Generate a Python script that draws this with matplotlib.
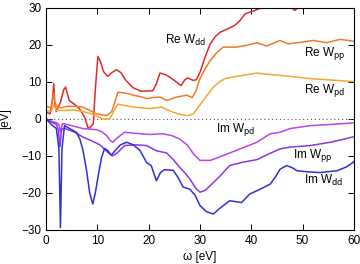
import matplotlib
matplotlib.use("Agg")
import matplotlib.pyplot as plt

plt.rcParams['font.family'] = ['Liberation Sans', 'DejaVu Sans']

# frequency grids [eV] and values [eV]
re_dd_w = [0, 0.8, 1.3, 1.5, 1.7, 2.0, 2.8, 3.4, 3.8, 4.5, 5.5, 6.5, 7.5, 8.2, 8.8, 9.2, 9.6, 10.1, 10.6, 11.2, 12.0, 12.8, 13.7, 14.6, 15.5, 17.0, 18.5, 20.8, 21.5, 22.2, 23.2, 24.1, 25.2, 26.3, 27.0, 27.6, 28.7, 29.3, 30.0, 31.0, 32.0, 33.0, 34.0, 35.5, 36.8, 37.8, 38.8, 40.7, 42.3, 45.0, 47.5, 48.5, 49.5, 52.0, 56.0, 60.0]
re_dd_v = [1.8, 1.4, 6.0, 9.5, 4.0, 2.0, 4.5, 7.8, 8.6, 5.0, 4.0, 2.8, 0.5, -2.5, -2.0, -1.3, 8.0, 16.9, 15.5, 12.8, 11.5, 12.5, 13.3, 12.5, 10.5, 8.4, 7.5, 7.6, 9.5, 12.4, 12.0, 11.3, 10.2, 9.0, 10.5, 11.1, 10.4, 10.6, 12.6, 16.7, 20.3, 22.3, 23.5, 24.4, 25.3, 26.6, 28.4, 29.3, 30.3, 31.0, 30.5, 29.3, 30.5, 31.5, 32.0, 32.5]

re_pp_w = [0, 1.0, 1.3, 1.5, 1.7, 2.0, 3.0, 4.0, 5.5, 7.2, 8.5, 9.8, 11.8, 12.8, 13.4, 14.0, 15.5, 17.0, 18.5, 19.6, 21.0, 22.2, 23.5, 25.4, 27.4, 28.5, 29.2, 30.0, 31.0, 32.0, 33.2, 34.5, 37.1, 39.1, 41.1, 43.0, 45.6, 47.2, 50.2, 52.1, 54.7, 57.3, 60.0]
re_pp_v = [3.4, 3.0, 5.5, 7.0, 4.5, 3.4, 3.0, 3.4, 3.4, 3.2, 2.3, 1.4, 0.9, 2.0, 4.5, 7.2, 7.0, 6.4, 6.0, 5.5, 5.8, 5.9, 5.0, 5.9, 6.4, 5.8, 7.5, 10.9, 13.5, 15.8, 17.8, 19.4, 19.4, 19.9, 20.6, 19.7, 21.2, 20.3, 20.8, 21.2, 20.6, 21.5, 21.0]

re_pd_w = [0, 1.0, 1.5, 2.0, 4.0, 5.5, 7.2, 8.5, 9.8, 11.0, 12.4, 13.0, 13.5, 14.0, 15.5, 17.0, 20.2, 22.5, 23.6, 24.8, 26.0, 27.4, 28.2, 28.7, 29.3, 30.0, 31.2, 32.6, 33.8, 34.9, 37.1, 41.1, 43.7, 47.5, 51.5, 55.5, 60.0]
re_pd_v = [2.3, 2.0, 4.0, 2.3, 2.3, 2.4, 2.0, 1.5, 0.9, 0.0, 0.0, 1.5, 3.0, 4.0, 3.6, 3.2, 2.8, 3.2, 2.5, 1.8, 1.3, 0.9, 1.1, 1.4, 2.5, 3.8, 6.0, 8.6, 10.0, 10.9, 11.5, 12.4, 12.0, 11.5, 10.9, 10.5, 10.1]

im_pd_w = [0, 1.0, 2.0, 2.5, 2.8, 3.2, 3.6, 5.5, 7.2, 9.8, 10.8, 11.8, 12.5, 13.0, 13.8, 15.3, 17.5, 20.2, 22.8, 24.5, 26.0, 27.5, 28.7, 30.0, 32.0, 33.2, 34.5, 37.8, 41.1, 43.7, 45.6, 47.6, 51.5, 55.4, 59.6, 60.0]
im_pd_v = [0, -0.6, -1.0, -1.5, -3.5, -1.3, -1.3, -2.0, -2.6, -2.9, -3.4, -4.5, -5.8, -6.3, -5.2, -3.6, -3.9, -4.2, -4.0, -4.5, -5.4, -7.0, -9.4, -11.2, -11.2, -10.6, -9.9, -8.1, -6.3, -4.0, -3.6, -2.6, -1.8, -1.5, -1.1, -1.0]

im_pp_w = [0, 1.0, 2.0, 2.4, 2.7, 3.0, 3.5, 5.6, 7.2, 9.0, 10.5, 12.0, 13.0, 14.0, 15.3, 17.5, 19.6, 21.5, 23.5, 24.8, 26.0, 27.0, 28.0, 29.2, 30.0, 31.0, 32.0, 34.0, 35.8, 38.0, 41.1, 43.5, 45.6, 47.6, 51.5, 55.4, 58.0, 60.0]
im_pp_v = [0, -0.8, -1.5, -3.0, -7.5, -3.0, -2.5, -3.6, -4.9, -6.0, -7.0, -9.0, -10.0, -9.0, -7.2, -7.0, -7.2, -8.6, -9.2, -11.0, -13.0, -14.5, -16.2, -18.8, -19.8, -19.3, -18.0, -15.3, -12.6, -11.8, -11.0, -9.4, -8.1, -7.6, -7.2, -6.3, -5.5, -4.8]

im_dd_w = [0, 1.0, 2.0, 2.5, 2.8, 3.1, 3.6, 4.8, 5.9, 6.6, 7.2, 7.9, 8.5, 9.1, 9.6, 10.2, 10.8, 11.4, 12.0, 12.7, 13.5, 14.5, 15.7, 17.0, 18.3, 19.6, 20.5, 21.5, 22.3, 23.1, 24.8, 25.8, 26.7, 28.0, 29.0, 30.0, 31.2, 32.6, 34.0, 35.8, 38.1, 39.7, 42.0, 43.7, 44.8, 45.6, 46.9, 48.0, 48.9, 51.0, 53.4, 56.7, 58.5, 60.0]
im_dd_v = [0, -1.5, -2.6, -8.0, -29.4, -8.0, -1.8, -2.8, -3.6, -5.5, -8.5, -14.0, -20.0, -23.0, -20.0, -15.0, -10.5, -8.0, -8.5, -9.8, -8.5, -7.0, -6.3, -7.0, -8.5, -11.8, -12.6, -16.7, -14.5, -13.7, -13.9, -16.0, -18.4, -19.0, -20.5, -23.4, -25.0, -25.7, -24.0, -22.1, -22.6, -20.3, -18.8, -17.6, -15.5, -13.6, -12.6, -13.2, -14.0, -14.3, -14.5, -14.0, -13.0, -11.6]

fig = plt.figure(figsize=(3.6, 2.64), dpi=100)
ax = fig.add_axes([0.128, 0.129, 0.855, 0.841])

ax.axhline(0, color='#555555', lw=0.8, ls=(0, (1, 2.5)))
ax.plot(re_dd_w, re_dd_v, color='#e02a2a', lw=1.1)
ax.plot(re_pp_w, re_pp_v, color='#f07a2c', lw=1.1)
ax.plot(re_pd_w, re_pd_v, color='#f6a62e', lw=1.1)
ax.plot(im_pd_w, im_pd_v, color='#b545ee', lw=1.1)
ax.plot(im_pp_w, im_pp_v, color='#8a35e6', lw=1.1)
ax.plot(im_dd_w, im_dd_v, color='#2f2fd8', lw=1.1)

fs = 8.5
ax.text(23.1, 21.2, r'Re W$_{\rm dd}$', fontsize=fs, va='center')
ax.text(50.2, 17.6, r'Re W$_{\rm pp}$', fontsize=fs, va='center')
ax.text(50.2, 7.7, r'Re W$_{\rm pd}$', fontsize=fs, va='center')
ax.text(33.1, -2.9, r'Im W$_{\rm pd}$', fontsize=fs, va='center')
ax.text(48.1, -9.9, r'Im W$_{\rm pp}$', fontsize=fs, va='center')
ax.text(50.2, -16.6, r'Im W$_{\rm dd}$', fontsize=fs, va='center')

ax.set_xlim(0, 60)
ax.set_ylim(-30, 30)
ax.set_xticks([0, 10, 20, 30, 40, 50, 60])
ax.set_yticks([-30, -20, -10, 0, 10, 20, 30])
ax.tick_params(direction='in', top=True, right=True, length=4, width=0.7, labelsize=8.5)
for s in ax.spines.values():
    s.set_linewidth(0.8)
ax.set_xlabel('ω [eV]', fontsize=8.5, labelpad=3)
ax.set_ylabel('[eV]', fontsize=8.5)
ax.yaxis.set_label_coords(-0.115, 0.5)

fig.savefig('out.png', dpi=100)
